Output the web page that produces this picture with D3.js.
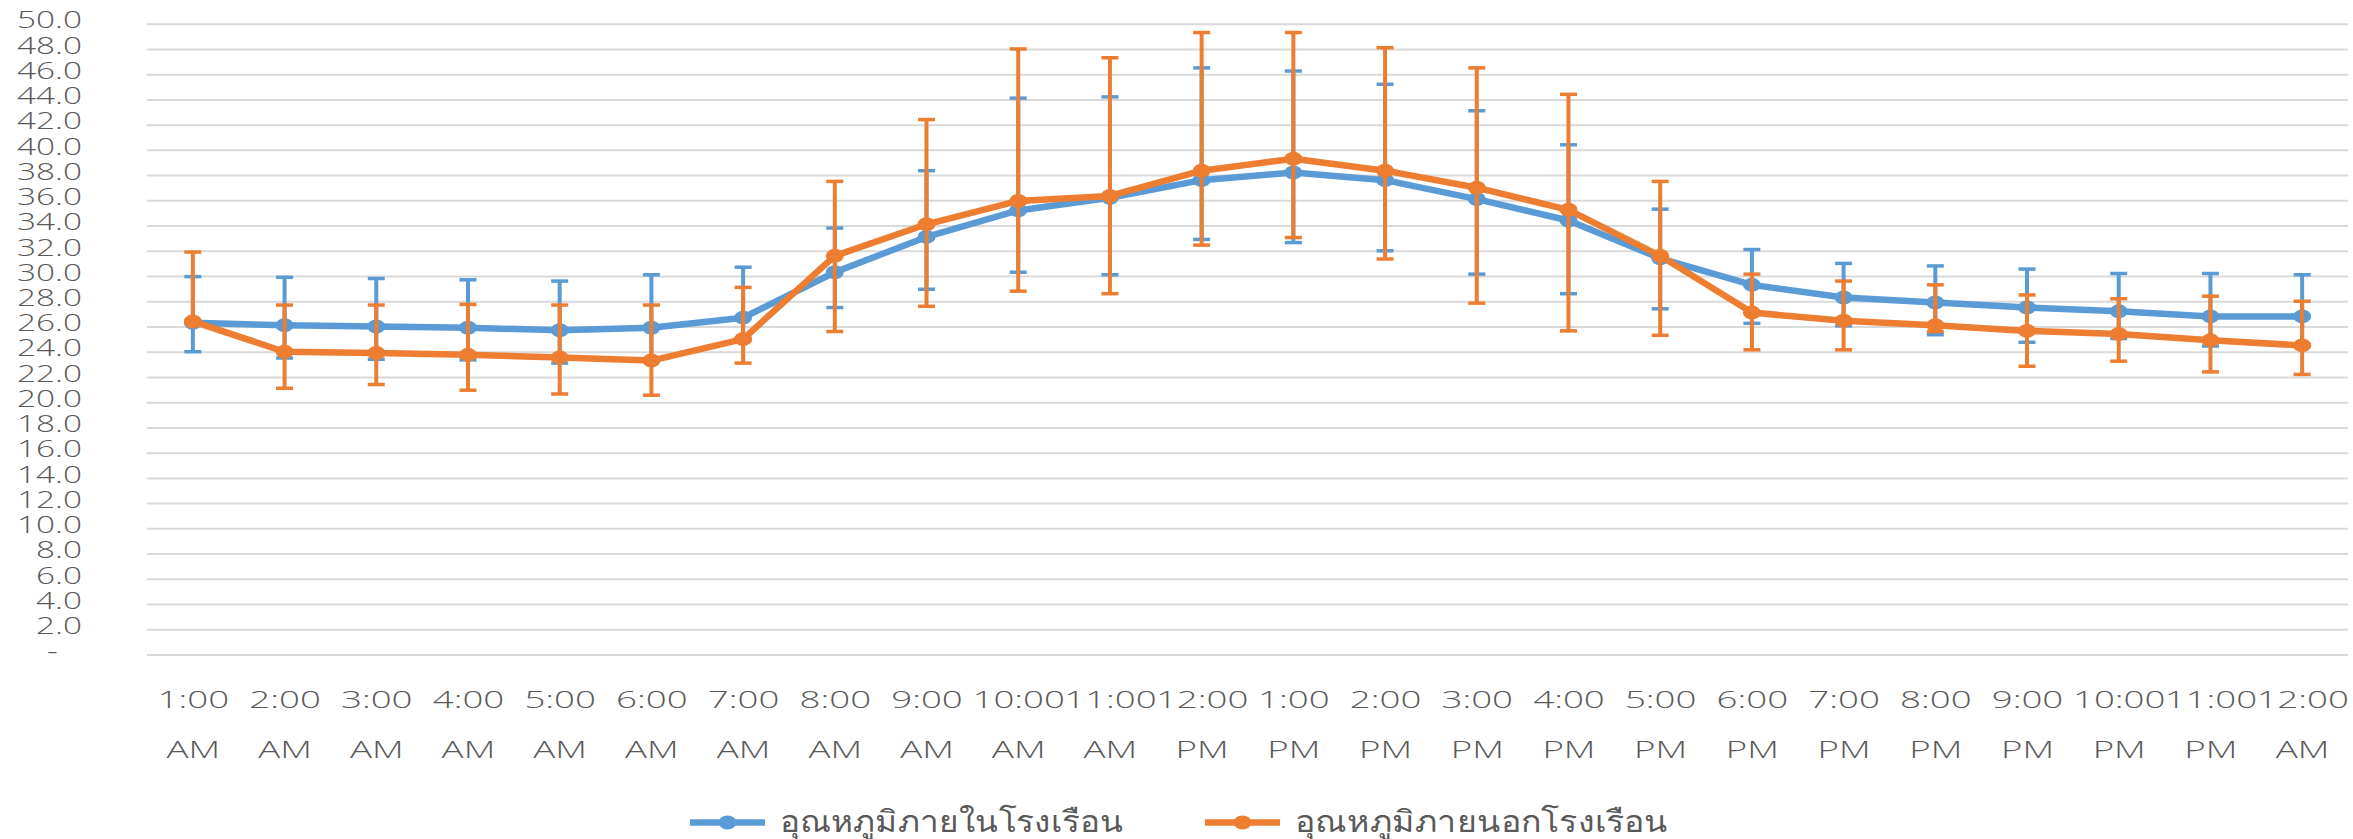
<!DOCTYPE html>
<meta charset="utf-8">
<style>
    body { margin: 0; background: #fff; }
    .axis text, .legend text {
        font-family: "Open Sans", "Noto Sans", sans-serif;
        font-weight: 300;
        fill: #595959;
    }
    .grid line { stroke: #d9d9d9; stroke-width: 2; }
    .grid .domain { display: none; }
</style>
<svg width="2353" height="839"></svg>
<script src="https://cdn.jsdelivr.net/npm/d3@7/dist/d3.min.js"></script>
<script>

    // hours along the bottom (two lines each)
    var hours = ["1:00", "2:00", "3:00", "4:00", "5:00", "6:00", "7:00", "8:00", "9:00", "10:00", "11:00", "12:00",
                 "1:00", "2:00", "3:00", "4:00", "5:00", "6:00", "7:00", "8:00", "9:00", "10:00", "11:00", "12:00"];
    var ampm = ["AM", "AM", "AM", "AM", "AM", "AM", "AM", "AM", "AM", "AM", "AM", "PM",
                "PM", "PM", "PM", "PM", "PM", "PM", "PM", "PM", "PM", "PM", "PM", "AM"];

    var yTicks = d3.range(0, 51, 2);

    // inside the greenhouse (blue)
    var insideMean = [26.3, 26.1, 26.0, 25.9, 25.7, 25.9, 26.7, 30.3, 33.1, 35.2, 36.2, 37.6,
                      38.2, 37.6, 36.1, 34.4, 31.4, 29.3, 28.3, 27.9, 27.5, 27.2, 26.8, 26.8];
    var insideHigh = [29.95, 29.9, 29.8, 29.7, 29.6, 30.1, 30.7, 33.8, 38.35, 44.1, 44.2, 46.5,
                      46.25, 45.2, 43.1, 40.4, 35.3, 32.1, 31.0, 30.8, 30.55, 30.2, 30.2, 30.1];
    var insideLow = [24.0, 23.5, 23.4, 23.35, 23.1, 23.4, 24.9, 27.5, 28.95, 30.3, 30.1, 32.9,
                     32.65, 32.0, 30.15, 28.6, 27.4, 26.25, 26.05, 25.35, 24.75, 25.05, 24.45, 24.6];

    // outside the greenhouse (orange)
    var outsideMean = [26.4, 24.0, 23.9, 23.75, 23.55, 23.3, 25.0, 31.6, 34.1, 35.95, 36.35, 38.35,
                       39.3, 38.35, 37.0, 35.25, 31.6, 27.1, 26.45, 26.1, 25.65, 25.4, 24.9, 24.5];
    var outsideHigh = [31.9, 27.7, 27.7, 27.75, 27.7, 27.7, 29.1, 37.5, 42.4, 48.0, 47.3, 49.3,
                       49.3, 48.1, 46.5, 44.4, 37.5, 30.15, 29.6, 29.3, 28.5, 28.2, 28.4, 28.0];
    var outsideLow = [26.4, 21.1, 21.4, 20.95, 20.65, 20.55, 23.1, 25.6, 27.6, 28.8, 28.6, 32.45,
                      33.05, 31.35, 27.85, 25.65, 25.3, 24.15, 24.15, 25.6, 22.85, 23.25, 22.4, 22.2];

    var seriesNames = ["อุณหภูมิภายในโรงเรือน", "อุณหภูมิภายนอกโรงเรือน"];
    var colors = ["#5b9bd5", "#ed7d31"];

    var svg = d3.select("svg"),
        plot = {left: 147, right: 2348, top: 23.7, bottom: 654.5},
        yStretch = 1.42,
        xStretch = 1.53;

    var idx = d3.range(hours.length);

    var x = d3.scalePoint().domain(idx).range([plot.left, plot.right]).padding(0.5),
        y = d3.scaleLinear().domain([0, 50]).range([plot.bottom, plot.top]);

    // gridlines
    svg.append("g")
        .attr("class", "grid")
        .attr("transform", "translate(" + plot.left + ",0)")
        .call(d3.axisLeft(y).tickValues(yTicks).tickSize(-(plot.right - plot.left)).tickFormat(""));

    // y labels
    var yAxis = svg.append("g")
        .attr("class", "axis axis--y")
        .attr("transform", "translate(82,0)")
        .call(d3.axisLeft(y).tickValues(yTicks).tickSize(0).tickPadding(0)
            .tickFormat(function(d) { return d === 0 ? "-" : d.toFixed(1); }));
    yAxis.select(".domain").remove();
    yAxis.selectAll("text")
        .attr("x", function(d) { return d === 0 ? -17 : 0; })
        .attr("y", -4)
        .attr("dy", "0.35em")
        .style("font-size", "23.5px")
        .attr("transform", "scale(" + yStretch + ",1)");

    // x labels
    var xAxis = svg.append("g")
        .attr("class", "axis axis--x")
        .attr("transform", "translate(0," + plot.bottom + ")")
        .call(d3.axisBottom(x).tickSize(0).tickFormat(""));
    xAxis.select(".domain").remove();
    var xt = xAxis.selectAll(".tick text")
        .attr("y", 0)
        .attr("dy", null)
        .style("font-size", "24px")
        .attr("transform", "scale(" + xStretch + ",1)");
    xt.append("tspan").attr("x", 0).attr("y", 54).text(function(d) { return hours[d]; });
    xt.append("tspan").attr("x", 0).attr("y", 104).text(function(d) { return ampm[d]; });

    var line = d3.line()
        .x(function(d, i) { return x(i); })
        .y(function(d) { return y(d); });

    function drawSeries(mean, high, low, color) {
        var g = svg.append("g");
        var bars = g.selectAll(".err")
            .data(idx)
            .enter().append("g")
            .attr("class", "err")
            .attr("stroke", color);
        bars.append("line")
            .attr("x1", function(i) { return x(i); })
            .attr("x2", function(i) { return x(i); })
            .attr("y1", function(i) { return y(high[i]); })
            .attr("y2", function(i) { return y(low[i]); })
            .attr("stroke-width", 4);
        [high, low].forEach(function(arr) {
            bars.append("line")
                .attr("x1", function(i) { return x(i) - 8.5; })
                .attr("x2", function(i) { return x(i) + 8.5; })
                .attr("y1", function(i) { return y(arr[i]); })
                .attr("y2", function(i) { return y(arr[i]); })
                .attr("stroke-width", 3.5);
        });

        g.append("path")
            .datum(mean)
            .attr("fill", "none")
            .attr("stroke", color)
            .attr("stroke-width", 6.5)
            .attr("stroke-linejoin", "round")
            .attr("d", line);

        g.selectAll(".dot")
            .data(mean)
            .enter().append("ellipse")
            .attr("class", "dot")
            .attr("cx", function(d, i) { return x(i); })
            .attr("cy", function(d) { return y(d); })
            .attr("rx", 9)
            .attr("ry", 7)
            .attr("fill", color);
    }

    drawSeries(insideMean, insideHigh, insideLow, colors[0]);
    drawSeries(outsideMean, outsideHigh, outsideLow, colors[1]);

    // legend
    var legendX = [690, 1205],
        legendW = [343, 373];
    var legend = svg.append("g").attr("class", "legend");
    var item = legend.selectAll("g")
        .data(seriesNames)
        .enter().append("g")
        .attr("transform", function(d, i) { return "translate(" + legendX[i] + ",822.5)"; });
    item.append("line")
        .attr("x1", 0).attr("x2", 75)
        .attr("stroke", function(d, i) { return colors[i]; })
        .attr("stroke-width", 6.5);
    item.append("ellipse")
        .attr("cx", 37.5).attr("rx", 9).attr("ry", 7)
        .attr("fill", function(d, i) { return colors[i]; });
    item.append("text")
        .attr("x", 90)
        .attr("y", 9)
        .attr("textLength", function(d, i) { return legendW[i]; })
        .attr("lengthAdjust", "spacingAndGlyphs")
        .style("font-size", "30px")
        .text(function(d) { return d; });

</script>
